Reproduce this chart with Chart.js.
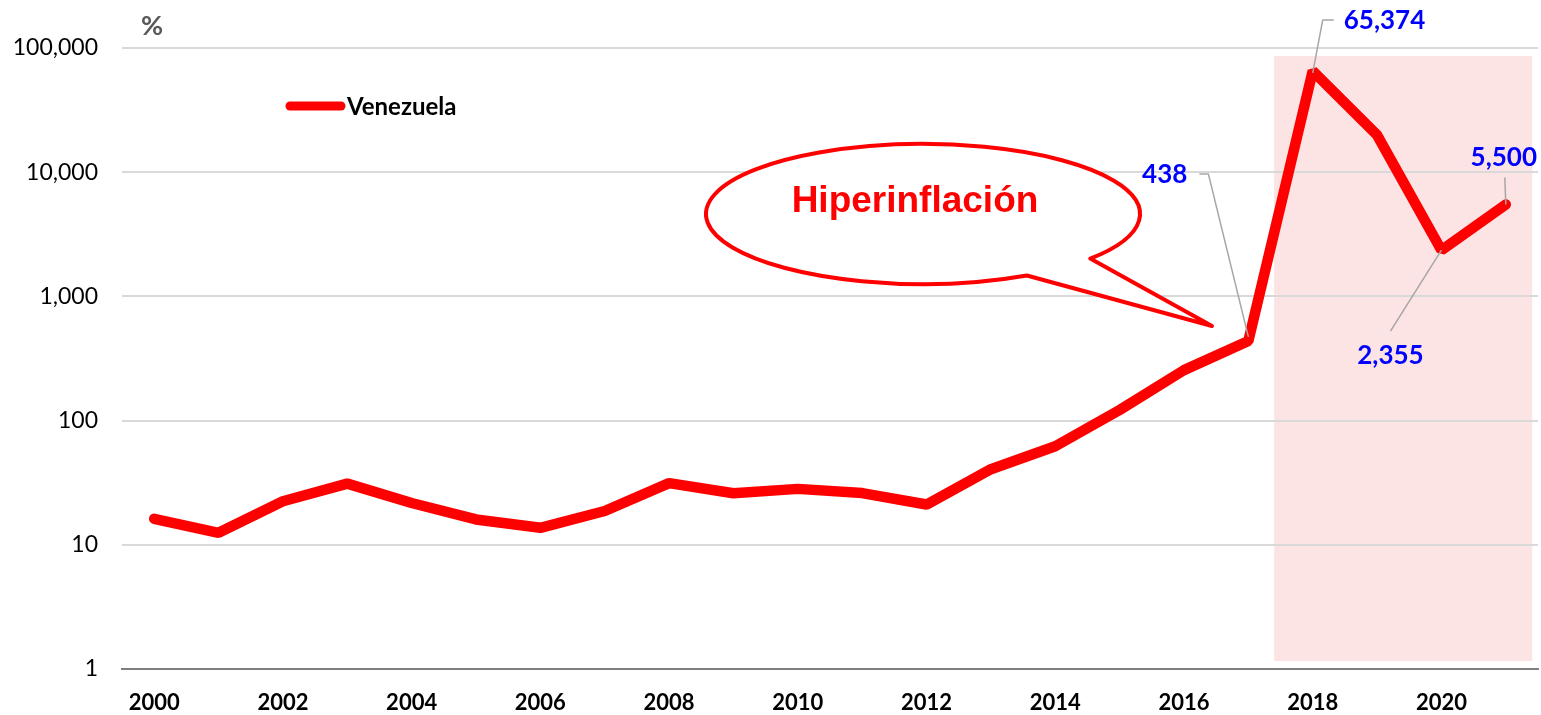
<!DOCTYPE html>
<html>
<head>
<meta charset="utf-8">
<script src="https://cdn.jsdelivr.net/npm/chart.js@4/dist/chart.umd.min.js"></script>
<style>
  html, body { margin: 0; padding: 0; background: #fff; }
  #wrap { width: 1541px; height: 715px; position: relative; }
</style>
</head>
<body>
<div id="wrap"><canvas id="chart"></canvas></div>
<script>
// data
const years = ['2000', '2001', '2002', '2003', '2004', '2005', '2006', '2007', '2008', '2009', '2010',
               '2011', '2012', '2013', '2014', '2015', '2016', '2017', '2018', '2019', '2020', '2021'];
const inflation = [16.2, 12.5, 22.4, 31.1, 21.7, 16.0, 13.7, 18.7, 31.4, 26.0, 28.2,
                   26.1, 21.1, 40.6, 62.2, 121.7, 254.9, 438, 65374, 19906, 2355, 5500];
const yTicks = [1, 10, 100, 1000, 10000, 100000];
const labelledYears = ['2017', '2018', '2020', '2021'];
const seriesName = 'Venezuela';
const calloutText = 'Hiperinflación';

const fmt = v => v.toLocaleString('en-US');

// leader / text offsets for the value labels (pixels relative to the point)
const labelLayout = {
  '2017': { tx: -61, ty: -166, align: 'right', leader: [[0, -4], [-40, -167], [-49, -167]] },
  '2018': { tx: 31, ty: -50, align: 'left', leader: [[0, 2], [10, -51], [21, -51]] },
  '2020': { tx: -51, ty: 105, align: 'center', leader: [[0, 0], [-51, 81]] },
  '2021': { tx: -2, ty: -47, align: 'center', leader: [[0, 0], [-1, -27]] }
};

// pink band behind the hyperinflation years
const bandPlugin = {
  id: 'band',
  beforeDraw(chart) {
    const { ctx, chartArea, scales } = chart;
    const x0 = scales.x.getPixelForValue(17.4);
    const x1 = scales.x.getPixelForValue(21.41);
    ctx.save();
    ctx.fillStyle = '#fde4e4';
    ctx.fillRect(x0, chartArea.top + 8, x1 - x0, chartArea.bottom - chartArea.top - 16);
    ctx.restore();
  }
};

const decorPlugin = {
  id: 'decor',
  afterDraw(chart) {
    const { ctx, scales } = chart;
    ctx.save();

    // "%" unit
    ctx.fillStyle = '#595959';
    ctx.font = 'bold 27px Lato';
    ctx.textAlign = 'left';
    ctx.textBaseline = 'alphabetic';
    ctx.fillText('%', 141, 35);

    // legend
    ctx.strokeStyle = '#ff0000';
    ctx.lineWidth = 9;
    ctx.lineCap = 'round';
    ctx.beginPath();
    ctx.moveTo(290, 106);
    ctx.lineTo(341, 106);
    ctx.stroke();
    ctx.fillStyle = '#000';
    ctx.font = 'bold 24px Lato';
    ctx.textBaseline = 'middle';
    ctx.fillText(seriesName, 347, 107);

    // speech bubble
    const cx = 923, cy = 214, rx = 217, ry = 70;
    const a1 = 61.4 * Math.PI / 180, a2 = 39.6 * Math.PI / 180;
    ctx.beginPath();
    ctx.ellipse(cx, cy, rx, ry, 0, a1, a2);
    ctx.lineTo(1212, 326);
    ctx.closePath();
    ctx.fillStyle = '#fff';
    ctx.fill();
    ctx.lineWidth = 4;
    ctx.lineJoin = 'round';
    ctx.strokeStyle = '#ff0000';
    ctx.stroke();
    ctx.fillStyle = '#ff0000';
    ctx.font = 'bold 37px "Liberation Sans", Arial';
    ctx.textAlign = 'center';
    ctx.textBaseline = 'alphabetic';
    ctx.fillText(calloutText, 915, 212);

    // value labels with leader lines
    labelledYears.forEach(yr => {
      const i = years.indexOf(yr);
      const px = scales.x.getPixelForValue(i);
      const py = scales.y.getPixelForValue(inflation[i]);
      const lay = labelLayout[yr];
      ctx.strokeStyle = '#a6a6a6';
      ctx.lineWidth = 1.5;
      ctx.lineCap = 'butt';
      ctx.beginPath();
      lay.leader.forEach(([dx, dy], k) => {
        if (k === 0) ctx.moveTo(px + dx, py + dy);
        else ctx.lineTo(px + dx, py + dy);
      });
      ctx.stroke();
      ctx.fillStyle = '#0000ff';
      ctx.font = 'bold 26px Lato';
      ctx.textAlign = lay.align;
      ctx.textBaseline = 'middle';
      ctx.fillText(fmt(inflation[i]), px + lay.tx, py + lay.ty);
    });

    ctx.restore();
  }
};

new Chart(document.getElementById('chart'), {
  type: 'line',
  data: {
    labels: years,
    datasets: [{
      label: seriesName,
      data: inflation,
      borderColor: '#ff0000',
      backgroundColor: '#ff0000',
      borderWidth: 10.5,
      borderCapStyle: 'round',
      borderJoinStyle: 'bevel',
      pointRadius: 0,
      tension: 0,
      clip: false
    }]
  },
  options: {
    responsive: true,
    maintainAspectRatio: false,
    animation: false,
    layout: { padding: { top: 48, right: 3, left: 0, bottom: 0 } },
    plugins: {
      legend: { display: false },
      tooltip: { enabled: false }
    },
    scales: {
      x: {
        type: 'category',
        offset: true,
        afterFit: s => { s.height = 46; },
        grid: { display: false, drawTicks: false },
        border: { display: true, color: '#7f7f7f', width: 2 },
        ticks: {
          autoSkip: false,
          maxRotation: 0,
          padding: 21,
          color: '#000',
          font: { family: 'Lato', size: 22, weight: 'bold' },
          callback: (v, i) => (i % 2 === 0 ? years[i] : '')
        }
      },
      y: {
        type: 'logarithmic',
        min: 1,
        max: 100000,
        afterFit: s => { s.width = 122; },
        afterBuildTicks: s => { s.ticks = yTicks.map(v => ({ value: v })); },
        grid: { color: '#d9d9d9', lineWidth: 2, drawTicks: false },
        border: { display: false },
        ticks: {
          padding: 24,
          color: '#000',
          font: { family: 'Lato', size: 23 },
          callback: v => fmt(v)
        }
      }
    }
  },
  plugins: [bandPlugin, decorPlugin]
});
</script>
</body>
</html>
